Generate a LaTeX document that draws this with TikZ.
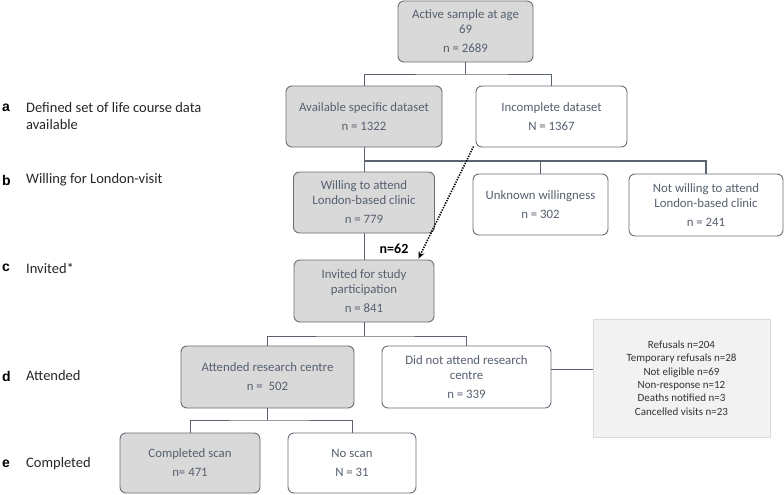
\documentclass[tikz,border=0pt]{standalone}
\usepackage{fontspec}
\setmainfont{Carlito}
\newfontfamily\lettfont{Liberation Sans}
\usetikzlibrary{arrows.meta}
\definecolor{boxtext}{HTML}{56606E}
\definecolor{boxline}{HTML}{686D78}
\definecolor{greyfill}{HTML}{D9D9D9}
\definecolor{connline}{HTML}{5B6270}
\definecolor{notefill}{HTML}{F2F2F2}
\definecolor{noteline}{HTML}{DADADA}
\tikzset{
  flowbox/.style={draw=boxline, line width=0.9pt, rounded corners=6pt, align=center,
    text=boxtext, font=\fontsize{12.8}{15}\selectfont, inner sep=0pt},
  greybox/.style={flowbox, fill=greyfill},
  whitebox/.style={flowbox, fill=white},
  conn/.style={draw=connline, line width=0.9pt},
  lett/.style={anchor=west, font=\lettfont\bfseries\fontsize{14}{16}\selectfont, text=black, inner sep=0pt},
  lab/.style={anchor=west, align=left, font=\fontsize{14.5}{17}\selectfont, text=black!85, inner sep=0pt},
}
\begin{document}
\begin{tikzpicture}[x=1pt,y=-1pt]
\useasboundingbox (0,0) rectangle (784,495);
% boxes
\node[greybox, minimum width=135pt, minimum height=61pt] (top) at (465.5,31.5)
  {Active sample at age\\69\\[4pt]n = 2689};
\node[greybox, minimum width=156pt, minimum height=61pt] (avail) at (364,116.5)
  {Available specific dataset\\[4pt]n = 1322};
\node[whitebox, minimum width=151pt, minimum height=61pt] (incomp) at (551.5,116.5)
  {Incomplete dataset\\[4pt]N = 1367};
\node[greybox, minimum width=141pt, minimum height=61pt] (willing) at (364,202.5)
  {Willing to attend\\London-based clinic\\[4pt]n = 779};
\node[whitebox, minimum width=135pt, minimum height=61pt] (unknown) at (540.5,204.5)
  {Unknown willingness\\[4pt]n = 302};
\node[whitebox, minimum width=154pt, minimum height=62pt] (notwill) at (706,205)
  {Not willing to attend\\London-based clinic\\[4pt]n = 241};
\node[greybox, minimum width=140pt, minimum height=62pt] (invited) at (364,291)
  {Invited for study\\participation\\[4pt]n = 841};
\node[greybox, minimum width=173pt, minimum height=62pt] (attended) at (267.5,377)
  {Attended research centre\\[4pt]n = \ 502};
\node[whitebox, minimum width=169pt, minimum height=62pt] (didnot) at (466.5,377)
  {Did not attend research\\centre\\[4pt]n = 339};
\node[greybox, minimum width=140pt, minimum height=60pt] (completed) at (190,463)
  {Completed scan\\[4pt]n= 471};
\node[whitebox, minimum width=128pt, minimum height=60pt] (noscan) at (352,463)
  {No scan\\[4pt]N = 31};
\node[draw=noteline, fill=notefill, line width=0.6pt, minimum width=177pt, minimum height=118pt,
  align=center, text=black!80, font=\fontsize{11}{13.4}\selectfont, inner sep=0pt] (reasons) at (681.5,378)
  {Refusals n=204\\Temporary refusals n=28\\Not eligible n=69\\Non-response n=12\\Deaths notified n=3\\Cancelled visits n=23};
% junctions
\coordinate (j1) at (465.5,74);
\coordinate (j2) at (364,161);
\coordinate (j3) at (364,336);
\coordinate (j4) at (267.5,420);
% connectors
\draw[conn] (top.south) -- (j1);
\draw[conn] (avail.north) |- (j1) -| (incomp.north);
\draw[conn] (avail.south) -- (willing.north);
\draw[conn, line width=1.4pt] (j2) -| (notwill.north);
\draw[conn] (j2) -| (unknown.north);
\draw[conn] (willing.south) -- (invited.north);
\draw[conn] (invited.south) -- (j3);
\draw[conn] (attended.north) |- (j3) -| (didnot.north);
\draw[conn] (attended.south) -- (j4);
\draw[conn] (completed.north) |- (j4) -| (noscan.north);
\draw[conn] ([yshift=8pt]didnot.east) -- ([yshift=8pt]didnot.east -| reasons.west);
% dotted arrow
\coordinate (arrEnd) at ([xshift=-16pt,yshift=1pt]invited.north east);
\draw[line width=1.6pt, dash pattern=on 1.3pt off 1.3pt, -{Stealth[length=7pt,width=6pt]}]
  ([xshift=-2pt,yshift=1pt]incomp.south west) -- (arrEnd);
\node[font=\bfseries\fontsize{14}{16}\selectfont, text=black, inner sep=0pt] (n62) at (394,249) {n=62};
% stage labels
\node[lett] (la) at (2,108) {a};
\node[lab] (ta) at (26,108) {Defined set of life course data};
\node[lab] (ta2) at (26,125) {available};
\node[lett] (lb) at (2,180) {b};
\node[lab] (tb) at (26,180) {Willing for London-visit};
\node[lett] (lc) at (2,268) {c};
\node[lab] (tc) at (26,268) {Invited*};
\node[lett] (ld) at (2,376) {d};
\node[lab] (td) at (26,376) {Attended};
\node[lett] (le) at (2,464) {e};
\node[lab] (te) at (26,464) {Completed};
\end{tikzpicture}
\end{document}
